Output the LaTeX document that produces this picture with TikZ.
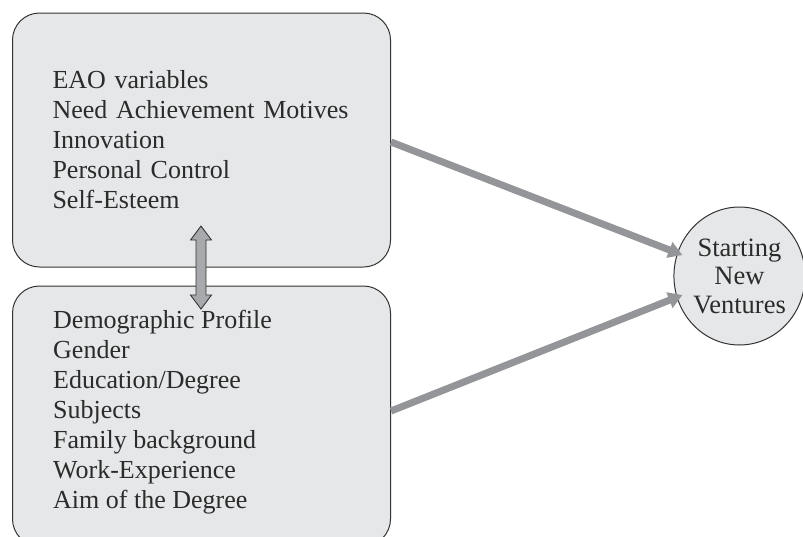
\documentclass[tikz,border=0pt]{standalone}
\usepackage{fontspec}
\setmainfont{Liberation Serif}
\usetikzlibrary{arrows.meta,calc,shapes.geometric}
\definecolor{boxfill}{HTML}{E6E7E8}
\definecolor{edge}{HTML}{333333}
\definecolor{arrowgray}{HTML}{939598}
\definecolor{dblfill}{HTML}{A7A9AC}
\definecolor{txt}{HTML}{2B2B2B}
\tikzset{
  listbox/.style={draw=edge, line width=1pt, fill=boxfill, rounded corners=27pt,
    align=left, text width=298pt, inner xsep=40pt, inner ysep=0pt,
    minimum width=378pt, text=txt, font=\fontsize{26}{30}\selectfont},
  goalnode/.style={draw=edge, line width=1pt, fill=boxfill, ellipse, text=txt,
    minimum width=126pt, minimum height=138pt, inner sep=0pt, align=center,
    font=\fontsize{26.5}{28.5}\selectfont},
  bigarrow/.style={draw=arrowgray, line width=7pt, -{Triangle[length=14pt,width=16pt]}},
  dblarrow/.style={draw=edge, line width=0.9pt, fill=dblfill, line join=miter}
}
\begin{document}
\begin{tikzpicture}[x=1pt,y=-1pt]
\clip (0,0) rectangle (803,536);
\fill[white] (0,0) rectangle (803,536);
\node[listbox, minimum height=254pt] (top) at (201.5,140) {EAO variables\\Need Achievement Motives\\Innovation\\Personal Control\\Self-Esteem};
\node[listbox, minimum height=260pt] (bot) at (201.5,416) {};
\node[text=txt, font=\fontsize{26}{30}\selectfont, align=left, anchor=west, inner sep=0pt] (botlist) at (53,412)
  {Demographic Profile\\Gender\\Education/Degree\\Subjects\\Family background\\Work-Experience\\Aim of the Degree};
\node[goalnode] (sv) at (739.5,276) {Starting\\New\\Ventures};
\coordinate (t1) at ($(sv.west)+(9,-21)$);
\coordinate (t2) at ($(sv.west)+(9,19)$);
\draw[bigarrow] ([yshift=-2pt]top.east) -- (t1);
\draw[bigarrow] ([yshift=5pt]bot.east) -- (t2);
% double arrow between boxes
\coordinate (da) at (201,226);
\coordinate (db) at (201,309);
\draw[dblarrow] (da) -- ++(10.5,14) -- ++(-5.5,0) -- ($(db)+(5,-14)$) -- ++(5.5,0) -- (db)
  -- ++(-10.5,-14) -- ++(5.5,0) -- ($(da)+(-5,14)$) -- ++(-5.5,0) -- cycle;
\end{tikzpicture}
\end{document}
